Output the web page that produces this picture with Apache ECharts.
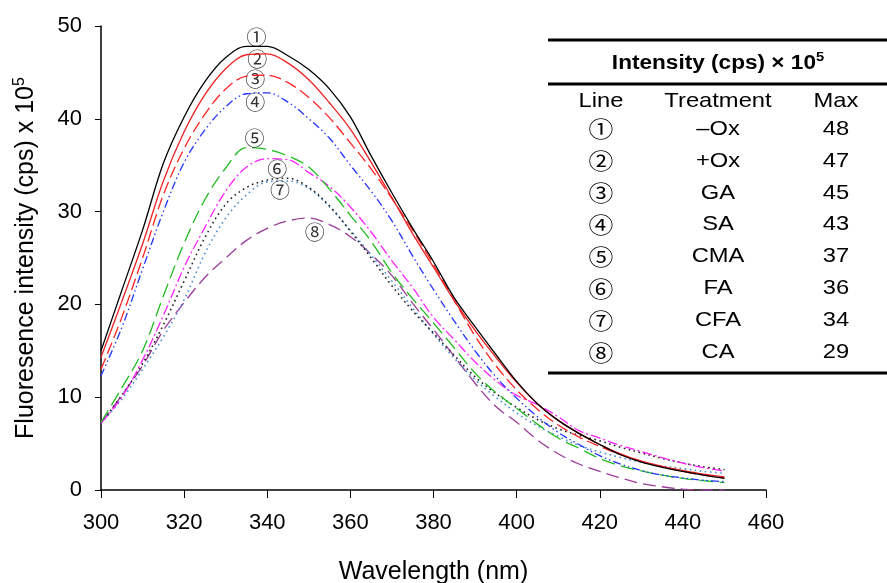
<!DOCTYPE html>
<html>
<head>
<meta charset="utf-8">
<script src="https://cdn.jsdelivr.net/npm/echarts@6/dist/echarts.min.js"></script>
<style>html,body{margin:0;padding:0;background:#fff}#c{width:887px;height:583px}</style>
</head>
<body>
<div id="c"></div>
<script>
// ---- data ----
const wavelengths = [300,305,310,315,320,325,330,335,340,345,350,355,360,365,370,375,380,385,390,395,400,405,410,415,420,425,430,435,440,445,450];
const line1 = [15.0,21.5,28.0,35.2,40.2,44.0,46.6,47.8,47.8,46.8,45.3,43.2,40.2,36.0,32.0,28.2,24.6,20.7,17.6,14.6,11.7,9.3,7.5,6.1,4.9,3.8,3.0,2.45,2.0,1.6,1.26];
const line2 = [14.3,20.3,26.5,33.3,38.6,42.6,45.4,46.9,47.0,46.0,44.2,41.7,38.9,35.3,31.5,27.6,24.0,20.4,17.2,14.3,11.6,9.3,7.5,6.1,4.9,3.9,3.1,2.55,2.1,1.7,1.4];
const line3 = [13.0,18.6,25.0,31.8,36.8,40.5,43.2,44.6,44.7,43.9,42.3,40.1,37.4,34.6,31.4,28.0,24.3,20.4,16.6,13.4,10.8,8.7,7.0,5.7,4.7,3.8,3.1,2.5,2.0,1.6,1.3];
const line4 = [12.3,17.5,23.8,30.0,35.3,38.8,41.3,42.7,42.8,41.8,40.0,37.9,35.0,32.2,29.0,25.2,21.6,18.2,15.0,12.2,9.9,7.9,6.2,4.9,3.7,2.8,2.1,1.6,1.3,1.05,0.9];
const line5 = [7.3,11.0,15.0,20.9,26.6,31.3,34.7,36.9,36.7,36.0,34.8,32.4,29.6,26.8,23.4,20.6,18.0,15.3,12.6,10.5,8.8,7.1,5.6,4.5,3.4,2.6,2.05,1.6,1.25,1.0,0.8];
const line6 = [7.2,10.0,14.0,18.8,24.0,28.3,32.2,34.8,35.7,35.6,34.2,32.7,30.5,27.8,24.7,21.8,18.6,16.2,13.8,11.8,10.2,9.2,7.9,6.4,5.6,4.8,4.15,3.5,2.9,2.4,2.05];
const line7 = [7.2,10.2,13.6,17.8,22.5,27.2,30.8,32.6,33.4,33.6,32.6,30.6,27.9,25.0,22.0,19.3,16.9,14.5,12.2,10.4,8.9,7.6,6.6,5.9,5.3,4.6,4.0,3.4,2.9,2.5,2.2];
const line7b = [7.2,9.8,13.0,16.5,20.5,25.5,29.3,31.8,33.2,33.3,32.5,30.5,28.0,25.3,22.5,19.6,16.8,14.2,11.9,10.0,8.3,6.9,5.8,4.8,4.1,3.5,3.0,2.6,2.3,2.0,1.8];
const line8 = [7.2,10.2,13.4,17.2,20.2,22.9,25.0,26.9,28.2,29.0,29.3,28.6,27.3,25.4,23.1,20.1,17.3,14.4,11.5,9.0,7.3,5.4,3.9,2.8,2.0,1.3,0.7,0.35,0.1,0.0,0.0];

const xTicks = [300,320,340,360,380,400,420,440,460];
const yTicks = [0,10,20,30,40,50];

const tableLines = ['①','②','③','④','⑤','⑥','⑦','⑧'];
const tableTreatments = ['–Ox','+Ox','GA','SA','CMA','FA','CFA','CA'];
const tableMax = [48,47,45,43,37,36,34,29];

// ---- build ----
function pts(vals){ return wavelengths.map((w,i)=>[w, vals[i]]); }

const chart = echarts.init(document.getElementById('c'), null, {renderer:'canvas'});

function mkSeries(name, vals, color, dash, width, z, mark){
  const s = {
    name, type:'line', data: pts(vals), smooth: 0.35, symbol:'none',
    lineStyle:{color, width: width||1.3, type: dash||'solid', dashOffset: 0},
    z: z||2, silent:true, animation:false
  };
  if (mark) {
    s.markPoint = {
      symbol:'circle', symbolSize:0, silent:true, animation:false,
      data:[{type:'max', valueDim:'y'}],
      label:{show:true, position:'inside', formatter: mark.text, offset: mark.offset,
        color:'#333', fontSize:20, fontFamily:'"Noto Sans CJK JP", sans-serif'}
    };
  }
  return s;
}

const series = [
  mkSeries('8', line8, '#9b3c9b', [13,6], 1.3, 2, {text:'⑧', offset:[6,14]}),
  mkSeries('7b', line7b, '#4a8fd0', [1.6,3.5], 1.6, 3),
  mkSeries('7', line7, '#222', [1.6,3.5], 1.6, 3, {text:'⑦', offset:[-8,12]}),
  mkSeries('6', line6, '#ff22ff', [10,3,2,3], 1.3, 4, {text:'⑥', offset:[10,11]}),
  mkSeries('5', line5, '#22bb22', [14,6], 1.3, 4, {text:'⑤', offset:[8,-9]}),
  mkSeries('4', line4, '#2233ff', [8,3,1.5,3,1.5,3], 1.3, 5, {text:'④', offset:[-12,10]}),
  mkSeries('3', line3, '#ff2222', [12,5], 1.3, 5, {text:'③', offset:[-12,4]}),
  mkSeries('2', line2, '#ee2222', 'solid', 1.3, 6, {text:'②', offset:[-10,6]}),
  mkSeries('1', line1, '#000', 'solid', 1.3, 7, {text:'①', offset:[10,-9]})
];

// table graphics
const T = {left:548, right:887, cLine:601, cTreat:718, cMax:836, rule1:40, title:63, rule2:84, header:101, row0:129, step:31.9, rule3:373};
const SX = 1.13;
const font = '21px Arial, "Liberation Sans", sans-serif';
function txt(x, y, text, f){
  return {type:'text', x, y, scaleX:SX, style:{text, font:f||font, fill:'#000', align:'center', verticalAlign:'middle'}};
}
const graphics = [
  {type:'line', shape:{x1:T.left,y1:T.rule1,x2:T.right,y2:T.rule1}, style:{stroke:'#000', lineWidth:3}},
  {type:'line', shape:{x1:T.left,y1:T.rule2,x2:T.right,y2:T.rule2}, style:{stroke:'#000', lineWidth:3}},
  {type:'line', shape:{x1:T.left,y1:T.rule3,x2:T.right,y2:T.rule3}, style:{stroke:'#000', lineWidth:3}},
  {type:'text', x:T.cTreat, y:T.title, scaleX:SX, style:{
    text:'{b|Intensity (cps) × 10}{s|5}', align:'center', verticalAlign:'middle',
    rich:{b:{font:'bold 20px Arial, "Liberation Sans", sans-serif', fill:'#000'},
          s:{font:'bold 13px Arial, "Liberation Sans", sans-serif', fill:'#000', verticalAlign:'top', padding:[0,0,11,0]}}
  }},
  txt(T.cLine, T.header, 'Line'),
  txt(T.cTreat, T.header, 'Treatment'),
  txt(T.cMax, T.header, 'Max')
];
tableLines.forEach((t,i)=>{
  const y = T.row0 + i*T.step;
  graphics.push(txt(T.cLine, y, t, '22px "Noto Sans CJK JP", serif'));
  graphics.push(txt(T.cTreat, y, tableTreatments[i]));
  graphics.push(txt(T.cMax, y, String(tableMax[i])));
});

const option = {
  animation:false,
  backgroundColor:'#fff',
  grid:{left:101, right:121, top:26, bottom:93, containLabel:false, outerBoundsMode:'none'},
  xAxis:{
    type:'value', min:xTicks[0], max:xTicks[xTicks.length-1], interval:20,
    axisLine:{show:true, lineStyle:{color:'#000', width:1.5}},
    axisTick:{show:true, length:8, lineStyle:{color:'#000', width:1}},
    axisLabel:{color:'#000', fontSize:22, fontFamily:'Arial, "Liberation Sans", sans-serif', margin:22},
    splitLine:{show:false},
    name:'Wavelength (nm)', nameLocation:'middle', nameGap:70,
    nameTextStyle:{color:'#000', fontSize:25, fontFamily:'Arial, "Liberation Sans", sans-serif'}
  },
  yAxis:{
    type:'value', min:yTicks[0], max:yTicks[yTicks.length-1], interval:10,
    axisLine:{show:true, lineStyle:{color:'#000', width:1.5}},
    axisTick:{show:true, length:6, lineStyle:{color:'#000', width:1}},
    axisLabel:{color:'#000', fontSize:22, fontFamily:'Arial, "Liberation Sans", sans-serif', margin:19},
    splitLine:{show:false},
    name:'{n|Fluoresence intensity (cps) x 10}{s|5}', nameLocation:'middle', nameGap:61,
    nameTextStyle:{rich:{
      n:{color:'#000', fontSize:25, fontFamily:'Arial, "Liberation Sans", sans-serif'},
      s:{color:'#000', fontSize:16, fontFamily:'Arial, "Liberation Sans", sans-serif', verticalAlign:'top', padding:[0,0,12,0]}
    }}
  },
  graphic: graphics,
  series
};
chart.setOption(option);
</script>
</body>
</html>
